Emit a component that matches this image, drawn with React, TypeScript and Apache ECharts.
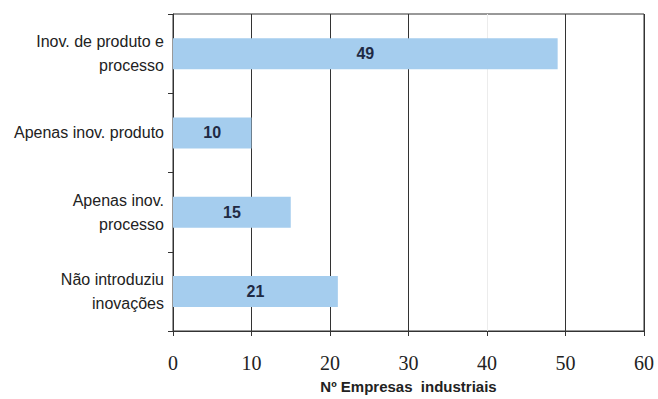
import React, { useEffect, useRef } from "react";
import * as echarts from "echarts";

const categories = [
  "Inov. de produto e\nprocesso",
  "Apenas inov. produto",
  "Apenas inov.\nprocesso",
  "Não introduziu\ninovações",
];
const values = [49, 10, 15, 21];
const xTicks = { min: 0, max: 60, interval: 10 };
const axisTitle = "Nº Empresas  industriais";

export default function App() {
  const ref = useRef<HTMLDivElement>(null);
  useEffect(() => {
    if (!ref.current) return;
    const chart = echarts.init(ref.current, undefined, { renderer: "svg" });
    chart.setOption({
      animation: false,
      backgroundColor: "#ffffff",
      grid: {
        left: 173,
        right: 14,
        top: 14,
        bottom: 65,
        show: true,
        borderColor: "#333",
        borderWidth: 1,
        backgroundColor: "transparent",
      },
      xAxis: {
        type: "value",
        min: xTicks.min,
        max: xTicks.max,
        interval: xTicks.interval,
        name: axisTitle,
        nameLocation: "middle",
        nameGap: 48,
        nameTextStyle: {
          fontFamily: "Liberation Sans, Arial, sans-serif",
          fontWeight: "bold",
          fontSize: 15,
          color: "#222",
        },
        axisLine: { show: true, lineStyle: { color: "#333", width: 1 } },
        axisTick: { show: true, inside: false, length: 5, lineStyle: { color: "#333" } },
        axisLabel: {
          fontFamily: "Liberation Serif, Times New Roman, serif",
          fontSize: 20,
          color: "#222",
          margin: 22,
        },
        splitLine: {
          show: true,
          lineStyle: {
            color: ["#333", "#333", "#333", "#333", "#ececec", "#333", "#333"],
            width: 1,
          },
        },
      },
      yAxis: {
        type: "category",
        data: categories,
        inverse: true,
        axisLine: { show: true, lineStyle: { color: "#333", width: 1 } },
        axisTick: { show: true, inside: false, length: 5, lineStyle: { color: "#333" } },
        axisLabel: {
          fontFamily: "Liberation Sans, Arial, sans-serif",
          fontSize: 16,
          color: "#222",
          margin: 9,
          lineHeight: 24,
          align: "right",
        },
      },
      series: [
        {
          type: "bar",
          data: values,
          barWidth: 31,
          itemStyle: { color: "#a5cdee" },
          label: {
            show: true,
            position: "inside",
            fontFamily: "Liberation Sans, Arial, sans-serif",
            fontWeight: "bold",
            fontSize: 16,
            color: "#1f2a44",
          },
        },
      ],
    });
    return () => chart.dispose();
  }, []);
  return <div ref={ref} style={{ width: 658, height: 399, position: "absolute", left: 0, top: 0 }} />;
}
